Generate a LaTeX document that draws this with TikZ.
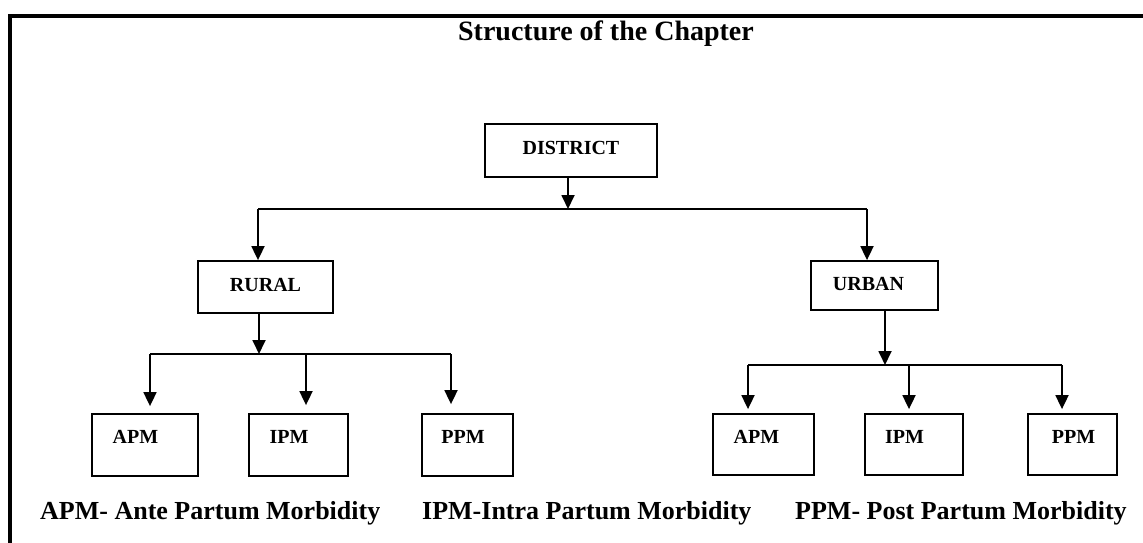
\documentclass[tikz,border=0pt]{standalone}
\usepackage{fontspec}
\setmainfont{Liberation Serif}
\usetikzlibrary{arrows.meta,calc}
\begin{document}
\begin{tikzpicture}[x=1pt,y=-1pt,
  box/.style={draw=black,line width=1.8pt,rectangle,inner sep=0pt},
  txt/.style={font=\fontsize{20}{24}\selectfont\bfseries,inner sep=0pt},
  note/.style={font=\fontsize{26}{30}\selectfont\bfseries,inner sep=0pt,anchor=base west},
  ttl/.style={font=\fontsize{28}{32}\selectfont\bfseries,inner sep=0pt},
  conn/.style={line width=1.8pt},
  arr/.style={line width=1.8pt,-{Triangle[length=14pt,width=13pt]}}]
\useasboundingbox (0,0) rectangle (1143,543);
\fill[white] (0,0) rectangle (1143,543);
% frame
\draw[line width=4pt] (10,543) -- (10,16) -- (1143,16);
% title
\node[ttl] (title) at (606,34) {Structure of the Chapter};
% main boxes
\node[box,minimum width=172pt,minimum height=53pt,label={[txt,yshift=3pt]center:DISTRICT}] (district) at (571,150.5) {};
\node[box,minimum width=135pt,minimum height=52pt,label={[txt,yshift=2.5pt]center:RURAL}] (rural) at (265.5,287) {};
\node[box,minimum width=127pt,minimum height=49pt,label={[txt,xshift=-6pt,yshift=1.5pt]center:URBAN}] (urban) at (874.5,285.5) {};
% rural children
\node[box,minimum width=106pt,minimum height=62pt,label={[txt,xshift=-9.5pt,yshift=8pt]center:APM}] (rapm) at (145,445) {};
\node[box,minimum width=99pt,minimum height=62pt,label={[txt,xshift=-9.5pt,yshift=8pt]center:IPM}] (ripm) at (298.5,445) {};
\node[box,minimum width=91pt,minimum height=62pt,label={[txt,xshift=-4.5pt,yshift=8pt]center:PPM}] (rppm) at (467.5,445) {};
% urban children
\node[box,minimum width=101pt,minimum height=61pt,label={[txt,xshift=-7pt,yshift=8pt]center:APM}] (uapm) at (763.5,444.5) {};
\node[box,minimum width=98pt,minimum height=61pt,label={[txt,xshift=-9.5pt,yshift=8pt]center:IPM}] (uipm) at (914,444.5) {};
\node[box,minimum width=89pt,minimum height=61pt,label={[txt,xshift=1pt,yshift=8pt]center:PPM}] (uppm) at (1072.5,444.5) {};
% junction coordinates
\coordinate (j0) at (568,209);
\coordinate (jl) at (258,209);
\coordinate (jr) at (867,209);
\coordinate (r0) at (259,354);
\coordinate (r1) at (150,354);
\coordinate (r2) at (306,354);
\coordinate (r3) at (451,354);
\coordinate (u0) at (885,365);
\coordinate (u1) at (748,365);
\coordinate (u2) at (909,365);
\coordinate (u3) at (1062,365);
% connectors district
\draw[arr] (district.south -| j0) -- (j0);
\draw[conn] (jl) -- (jr);
\draw[arr] (jl) -- (rural.north -| jl);
\draw[arr] (jr) -- (urban.north -| jr);
% rural connectors
\draw[arr] (rural.south -| r0) -- (r0);
\draw[conn] (r1) -- (r3);
\draw[arr,shorten >=7pt] (r1) -- (rapm.north -| r1);
\draw[arr,shorten >=8pt] (r2) -- (ripm.north -| r2);
\draw[arr,shorten >=9pt] (r3) -- (rppm.north -| r3);
% urban connectors
\draw[arr] (urban.south -| u0) -- (u0);
\draw[conn] (u1) -- (u3);
\draw[arr,shorten >=4pt] (u1) -- (uapm.north -| u1);
\draw[arr,shorten >=4pt] (u2) -- (uipm.north -| u2);
\draw[arr,shorten >=4pt] (u3) -- (uppm.north -| u3);
% legend
\node[note] (n1) at (40,519) {APM- Ante Partum Morbidity};
\node[note] (n2) at (422,519) {IPM-Intra Partum Morbidity};
\node[note] (n3) at (795,519) {PPM- Post Partum Morbidity};
\end{tikzpicture}
\end{document}
